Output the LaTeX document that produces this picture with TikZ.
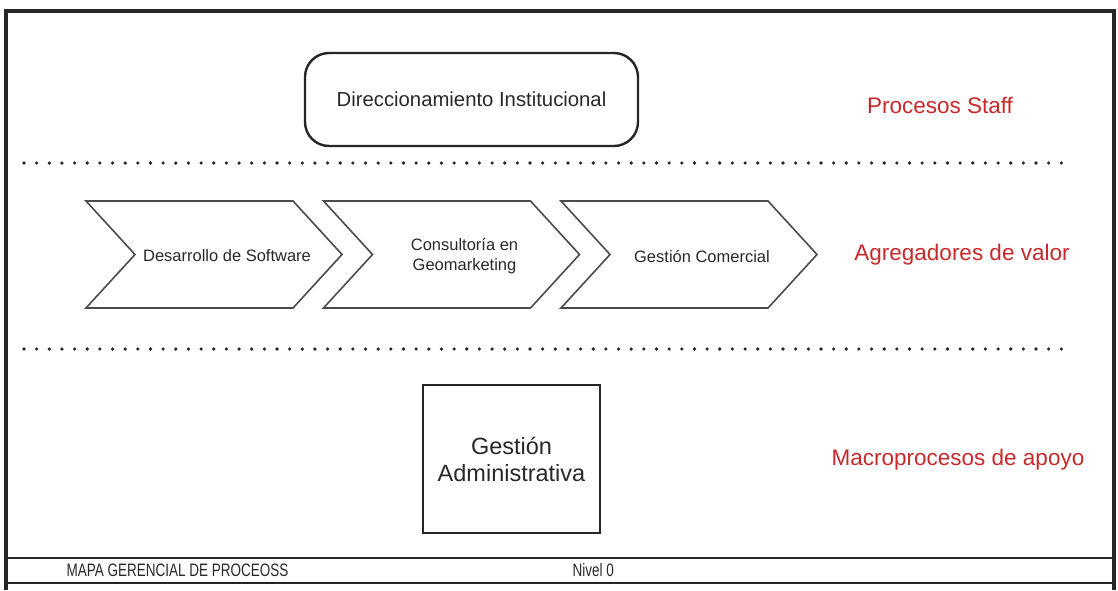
\documentclass[tikz,border=0pt]{standalone}
\usepackage{fontspec}
\setmainfont{Liberation Sans}
\definecolor{labelred}{RGB}{200,40,42}
\definecolor{inkgray}{RGB}{40,40,40}
\definecolor{chevgray}{RGB}{75,75,75}

\newcommand{\narrow}[1]{\scalebox{0.75}[1]{#1}}

\begin{document}
\begin{tikzpicture}[x=1pt, y=-1pt,
    staffbox/.style={draw=black!85, line width=2.4pt, rounded corners=24pt,
      minimum width=333pt, minimum height=93pt, text=inkgray,
      font=\fontsize{20.3}{24}\selectfont},
    supportbox/.style={draw=black!85, line width=2.4pt, minimum width=177pt,
      minimum height=148pt, text=inkgray, align=center,
      font=\fontsize{23.5}{27}\selectfont},
    chevron/.style={draw=chevgray, line width=1.6pt, line join=miter},
    chevtext/.style={text=inkgray, align=center, font=\fontsize{16.5}{20}\selectfont},
    levellabel/.style={text=labelred, font=\fontsize{22.5}{26}\selectfont},
    dotrow/.style={black!85, line width=3.6pt, line cap=round,
      dash pattern=on 0pt off 12.65pt},
    footertext/.style={text=inkgray, anchor=west, font=\fontsize{18}{20}\selectfont}]
    \useasboundingbox (0,0) rectangle (1118,590);

    % outer frame, open at the bottom
    \draw[black!85, line width=3.2pt] (6,590) -- (6,11) -- (1114,11) -- (1114,590);

    % staff level
    \node[staffbox] (direccionamiento) at (471.5,99.5) {Direccionamiento Institucional};
    \node[levellabel] (staff) at (940,105) {Procesos Staff};

    % separators between the levels
    \foreach \dy in {163,349} {
      \draw[dotrow] (24,\dy) -- (1064,\dy);
    }

    % value chain: three chevrons in a row
    \def\cw{207}    % top edge length
    \def\cd{49}     % depth of tip and notch
    \def\ctop{201}
    \def\cbot{308}
    \def\cmid{254.5}
    \foreach \i/\nm/\txt in {0/desarrollo/{Desarrollo de Software},
        1/consultoria/{Consultoría en\\Geomarketing},
        2/comercial/{Gestión Comercial}} {
      \pgfmathsetmacro{\xl}{86+\i*237.5}
      \pgfmathsetmacro{\xr}{\xl+\cw}
      \draw[chevron] (\xl,\ctop) -- (\xr,\ctop) -- (\xr+\cd,\cmid)
        -- (\xr,\cbot) -- (\xl,\cbot) -- (\xl+\cd,\cmid) -- cycle;
      \node[chevtext] (\nm) at (\xl+141,256) {\txt};
    }
    \node[levellabel] (valor) at (962,255) {Agregadores de valor};

    % support level
    \node[supportbox] (administrativa) at (511.5,459) {Gestión\\Administrativa};
    \node[levellabel] (apoyo) at (958,460) {Macroprocesos de apoyo};

    % footer bar
    \draw[black!85, line width=2.8pt] (7,558) rectangle (1113,583);
    \node[footertext] (mapa) at (63,570.5) {\narrow{MAPA GERENCIAL DE PROCEOSS}};
    \node[footertext] (nivel) at (569,570.5) {\narrow{Nivel 0}};

  \end{tikzpicture}
\end{document}
